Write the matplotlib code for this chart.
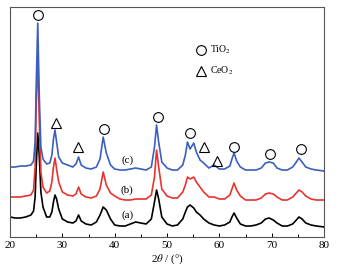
import numpy as np
import matplotlib; matplotlib.use('Agg')
import matplotlib.pyplot as plt

plt.rcParams['font.family'] = ['Liberation Serif', 'DejaVu Serif']
plt.rcParams['mathtext.fontset'] = 'stix'

# 2theta sample positions (deg) and intensities (arb. units)
two_theta = [20, 21, 22, 23, 24, 24.5, 24.8, 25.0, 25.3, 25.6, 25.9, 26.3, 27, 27.6, 28.0, 28.3,
             28.6, 28.9, 29.3, 30, 31, 32, 32.6, 33.1, 33.6, 34.5, 35.5, 36.5, 37.2, 37.8, 38.4,
             39.2, 40, 41, 42, 43, 44, 45, 46, 47, 47.6, 48.0, 48.4, 49, 50, 51, 52, 53, 53.5,
             53.9, 54.4, 55.1, 55.6, 56.3, 57, 58, 59, 60, 61, 62, 62.4, 62.8, 63.3, 64, 65, 66,
             67, 68, 68.8, 69.5, 70.3, 71, 72, 73, 74, 74.7, 75.2, 75.8, 76.5, 77.5, 78.5, 80]
curve_a = [20, 19, 19, 20, 22, 26, 40, 70, 104, 80, 45, 30, 20, 20, 25, 35,
           42, 38, 28, 18, 15, 14, 16, 22, 16, 13, 12, 15, 22, 30, 27,
           18, 12, 11, 11, 13, 15, 14, 13, 18, 35, 47, 38, 20, 13, 11, 12, 18, 25,
           30, 32, 29, 25, 22, 18, 14, 12, 11, 12, 15, 20, 24, 19, 13, 11, 11,
           12, 14, 18, 19, 17, 14, 11, 11, 13, 17, 20, 18, 14, 12, 11, 10]
curve_b = [40, 40, 40, 41, 42, 47, 70, 130, 182, 115, 65, 50, 44, 46, 55, 70,
           79, 68, 55, 45, 42, 41, 43, 50, 43, 40, 39, 41, 48, 65, 52,
           44, 41, 38, 37, 37, 38, 38, 38, 42, 60, 87, 70, 48, 41, 39, 39, 45, 52,
           60, 58, 60, 55, 50, 45, 40, 40, 38, 38, 42, 48, 54, 47, 41, 37, 37,
           37, 39, 43, 44, 43, 40, 37, 37, 40, 44, 47, 45, 41, 38, 37, 37]
curve_c = [70, 70, 71, 71, 72, 76, 95, 150, 214, 140, 90, 78, 73, 74, 82, 98,
           107, 95, 80, 74, 72, 70, 73, 80, 72, 69, 68, 70, 78, 100, 84,
           72, 68, 67, 67, 68, 69, 68, 67, 70, 90, 112, 95, 75, 69, 67, 67, 72, 82,
           95, 88, 94, 85, 77, 74, 69, 72, 68, 68, 71, 78, 84, 76, 70, 67, 67,
           67, 69, 74, 75, 74, 69, 67, 67, 70, 75, 79, 75, 70, 68, 67, 66]

# peak markers
tio2_x = [25.35, 38.0, 48.2, 54.4, 62.8, 69.7, 75.6]
tio2_y = [222, 108, 120, 104, 90, 83, 88]
ceo2_x = [28.7, 33.06, 57.1, 59.5]
ceo2_y = [114, 90, 90, 76]

labels = ['(a)', '(b)', '(c)']
label_y = [22, 47, 77]

fig = plt.figure(figsize=(3.39, 2.72), dpi=100)
ax = fig.add_axes([0.0295, 0.1287, 0.9265, 0.8453])

ax.plot(two_theta, curve_a, color='black', lw=1.2)
ax.plot(two_theta, curve_b, color='#e8332e', lw=1.2)
ax.plot(two_theta, curve_c, color='#3a5fbf', lw=1.2)

ax.plot(tio2_x, tio2_y, 'o', ms=7, mfc='none', mec='black', mew=0.8, ls='none')
ax.plot(ceo2_x, ceo2_y, '^', ms=7.5, mfc='none', mec='black', mew=0.8, ls='none')

for lab, yy in zip(labels, label_y):
    ax.text(42.4, yy, lab, ha='center', va='center', fontsize=8)

# legend
ax.plot([56.5], [187], 'o', ms=7, mfc='none', mec='black', mew=0.8)
ax.plot([56.5], [166], '^', ms=7.5, mfc='none', mec='black', mew=0.8)
ax.text(58.3, 187, r'TiO$_2$', va='center', fontsize=7)
ax.text(58.3, 166, r'CeO$_2$', va='center', fontsize=7)

ax.set_xlim(20, 80)
ax.set_ylim(0, 230)
ax.set_xticks([20, 30, 40, 50, 60, 70, 80])
ax.set_xticks([25, 35, 45, 55, 65, 75], minor=True)
ax.tick_params(axis='x', direction='in', labelsize=8, length=3, width=0.7, pad=3)
ax.tick_params(axis='x', which='minor', direction='in', length=2, width=0.7)
ax.set_yticks([])
ax.set_xlabel(r'2$\theta$ / (°)', fontsize=8, labelpad=2)
for s in ax.spines.values():
    s.set_color('#555555'); s.set_linewidth(0.8)

fig.savefig('out.png', dpi=100)
